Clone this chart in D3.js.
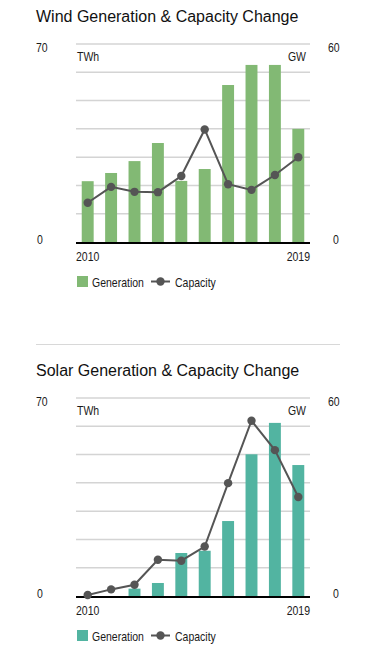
<!DOCTYPE html>
<html>
<head>
<meta charset="utf-8">
<script src="https://cdn.jsdelivr.net/npm/d3@7"></script>
<style>
  body { margin: 0; background: #fff; }
  svg { display: block; }
</style>
</head>
<body>
<div id="chart-container"></div>
<script>
const years = d3.range(2010, 2020);
const windGeneration = [21.5, 24.4, 28.6, 35, 21.6, 25.8, 55.5, 62.6, 62.6, 40];
const windCapacity = [11.9, 16.7, 15.2, 15.1, 20, 34.1, 17.5, 15.8, 20.3, 25.7];
const solarGeneration = [0, 0, 2.6, 4.6, 15.2, 16, 26.5, 50.1, 61.2, 46.3];
const solarCapacity = [0.3, 2, 3.4, 11, 10.7, 15, 34.2, 53.1, 44.2, 30];
const genMax = 70, capMax = 60;

const width = 384, height = 658;
const margin = { left: 76, right: 74 };
const lineColor = '#555';

const svg = d3.select("#chart-container").append("svg")
  .attr("width", width)
  .attr("height", height);

// condensed-looking label (no narrow font installed, so squeeze horizontally)
const narrow = (parent, x, y, txt, anchor) => parent.append("text")
  .attr("transform", `translate(${x},${y}) scale(0.84,1)`)
  .attr("font-family", "Liberation Sans, Arial, sans-serif")
  .attr("font-size", 12.5)
  .attr("fill", "#1a1a1a")
  .attr("text-anchor", anchor || "start")
  .text(txt);

const drawChart = (top, title, gen, cap, barColor) => {
  const g = svg.append("g").attr("transform", `translate(0,${top})`);
  const plotTop = 44, plotBottom = 242;

  const x = d3.scaleBand()
    .domain(years)
    .range([margin.left, width - margin.right])
    .paddingInner(0.49)
    .paddingOuter(0.245);
  const yL = d3.scaleLinear().domain([0, genMax]).range([plotBottom, plotTop]);
  const yR = d3.scaleLinear().domain([0, capMax]).range([plotBottom, plotTop]);

  g.append("text")
    .attr("x", 36).attr("y", 22)
    .attr("font-family", "Liberation Sans, Arial, sans-serif")
    .attr("font-size", 16)
    .attr("fill", "#111")
    .text(title);

  // gridlines every 10 TWh
  g.append("g")
    .selectAll("line")
    .data(d3.range(10, genMax + 1, 10))
    .join("line")
    .attr("x1", margin.left).attr("x2", width - margin.right)
    .attr("y1", d => yL(d)).attr("y2", d => yL(d))
    .attr("stroke", "#d4d4d4")
    .attr("stroke-width", 1.5);

  narrow(g, 36, yL(genMax) + 8, genMax);
  narrow(g, 37, yL(0) + 2, 0);
  narrow(g, 328, yR(capMax) + 8, capMax);
  narrow(g, 333, yR(0) + 2, 0);
  narrow(g, margin.left + 1, plotTop + 17, "TWh");
  narrow(g, width - margin.right - 4, plotTop + 17, "GW", "end");

  g.selectAll(".bar")
    .data(years)
    .join("rect")
    .attr("class", "bar")
    .attr("x", d => x(d))
    .attr("width", x.bandwidth())
    .attr("y", (d, i) => yL(gen[i]))
    .attr("height", (d, i) => yL(0) - yL(gen[i]))
    .attr("fill", barColor);

  // bottom axis
  g.append("line")
    .attr("x1", margin.left).attr("x2", width - margin.right)
    .attr("y1", yL(0) + 1).attr("y2", yL(0) + 1)
    .attr("stroke", "#000").attr("stroke-width", 2.2);

  const line = d3.line()
    .x(d => x(d[0]) + x.bandwidth() / 2)
    .y(d => yR(d[1]));
  const pts = years.map((yr, i) => [yr, cap[i]]);
  g.append("path")
    .datum(pts)
    .attr("d", line)
    .attr("fill", "none")
    .attr("stroke", lineColor)
    .attr("stroke-width", 2);
  g.selectAll(".dot")
    .data(pts)
    .join("circle")
    .attr("class", "dot")
    .attr("cx", d => x(d[0]) + x.bandwidth() / 2)
    .attr("cy", d => yR(d[1]))
    .attr("r", 4.2)
    .attr("fill", lineColor);

  narrow(g, margin.left, plotBottom + 19, years[0]);
  narrow(g, width - margin.right, plotBottom + 19, years[years.length - 1], "end");

  // legend
  const leg = g.append("g").attr("transform", `translate(0,${plotBottom + 34})`);
  leg.append("rect").attr("x", 77).attr("y", 0).attr("width", 11).attr("height", 11).attr("fill", barColor);
  narrow(leg, 92, 10.5, "Generation");
  leg.append("line").attr("x1", 151).attr("x2", 170).attr("y1", 5.5).attr("y2", 5.5)
    .attr("stroke", lineColor).attr("stroke-width", 2);
  leg.append("circle").attr("cx", 160.5).attr("cy", 5.5).attr("r", 4.2).attr("fill", lineColor);
  narrow(leg, 175, 10.5, "Capacity");
};

drawChart(0, "Wind Generation & Capacity Change", windGeneration, windCapacity, "#82b974");

svg.append("line")
  .attr("x1", 36).attr("x2", 340)
  .attr("y1", 344.5).attr("y2", 344.5)
  .attr("stroke", "#d8d8d8").attr("stroke-width", 1);

drawChart(354, "Solar Generation & Capacity Change", solarGeneration, solarCapacity, "#52b4a1");
</script>
</body>
</html>
